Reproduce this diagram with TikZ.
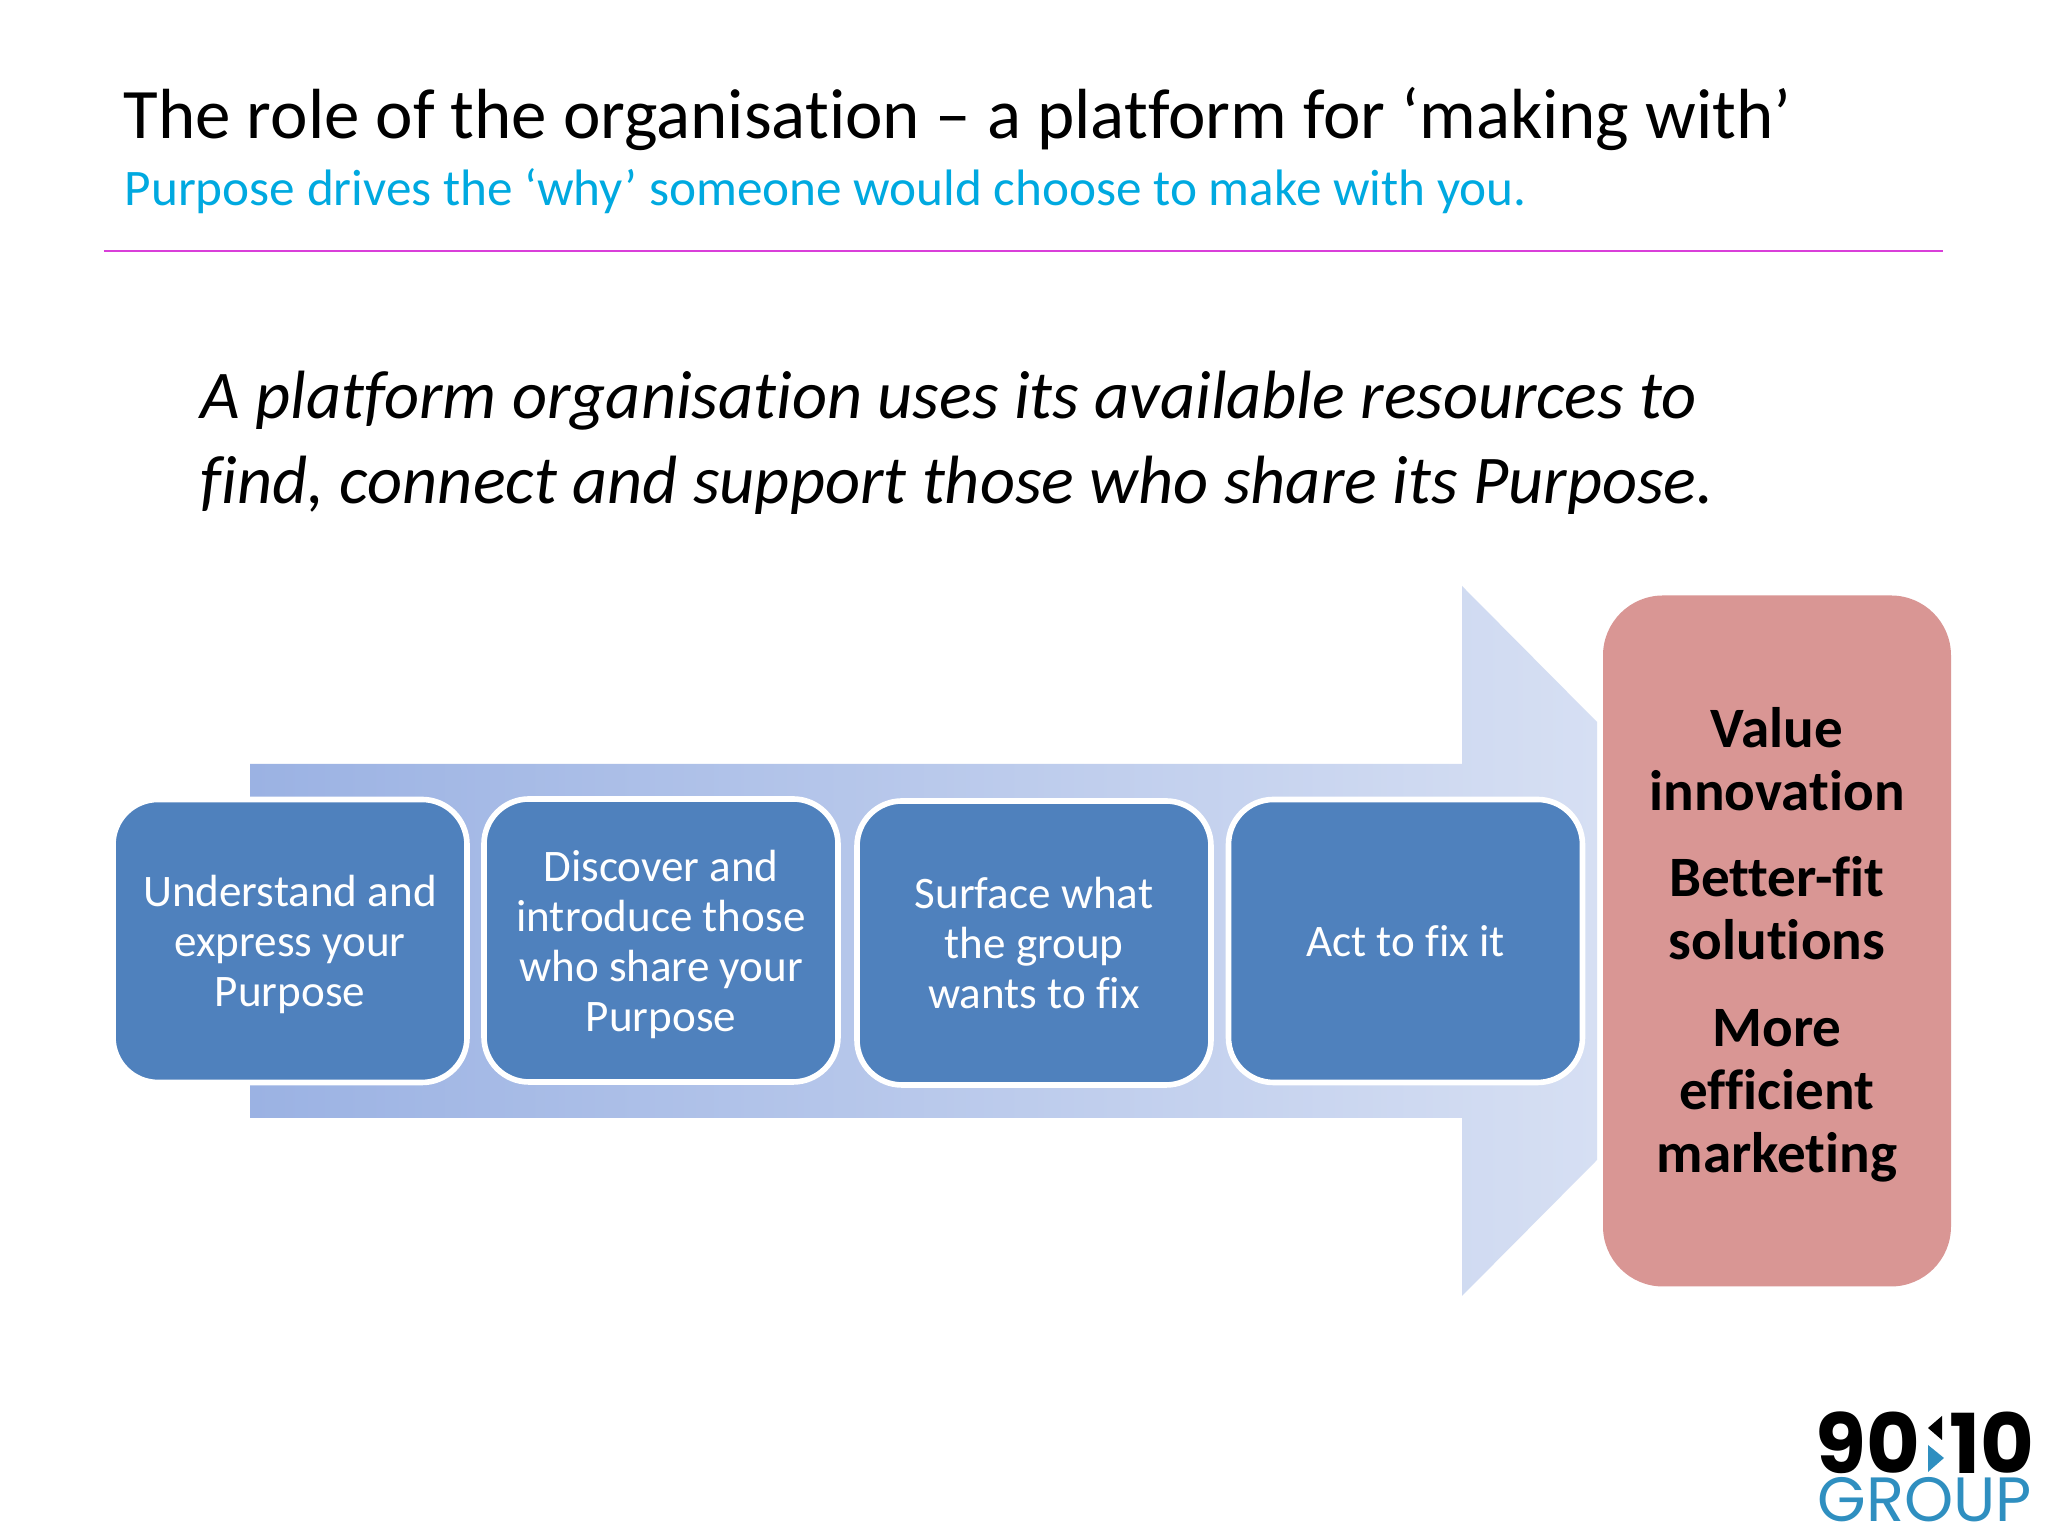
\documentclass[tikz,border=0pt]{standalone}
\usepackage{fontspec}
\setmainfont[Ligatures=NoCommon]{Carlito}
\newfontfamily\logofont{Poppins}
\usetikzlibrary{calc}
\definecolor{stepblue}{HTML}{4F81BD}
\definecolor{resultred}{HTML}{D99694}
\definecolor{subcyan}{HTML}{00A9E0}
\definecolor{rulepink}{HTML}{D93FD9}
\definecolor{logoblue}{HTML}{2F8FC0}
\tikzset{
	stepbox/.style={draw=white, line width=1.6pt, fill=stepblue, rounded corners=0.45cm, text=white, align=center,
		inner sep=0pt, font=\fontsize{12.83}{14.2}\selectfont},
	linetext/.style={anchor=base west, inner sep=0pt},
}

\begin{document}
\begin{tikzpicture}
		%%%%% START %%%%%
		\useasboundingbox (0, 0) rectangle (20.48, 15.36);
		\fill[white] (0, 0) rectangle (20.48, 15.36);
		
		\node[linetext, font=\fontsize{20.2}{24}\selectfont] (title) at (1.23, 13.97) {The role of the organisation -- a platform for ‘making with’};
		\node[linetext, font=\fontsize{14.58}{16}\selectfont, text=subcyan] (subtitle) at (1.24, 13.3) {Purpose drives the ‘why’ someone would choose to make with you.};
		\draw[rulepink, line width=0.7pt] (1.04, 12.85) -- (19.43, 12.85);
		
		\node[linetext, font=\fontsize{19.44}{22}\selectfont\itshape] (claim1) at (2, 11.17) {A platform organisation uses its available resources to};
		\node[linetext, font=\fontsize{19.44}{22}\selectfont\itshape] (claim2) at (2, 10.32) {find, connect and support those who share its Purpose.};
		
		\shade[left color={rgb,255:red,155;green,178;blue,227}, right color={rgb,255:red,214;green,223;blue,243}]
			(2.5, 7.72) -- (14.62, 7.72) -- (14.62, 9.5) -- (15.97, 8.14) -- (15.97, 3.76)
			-- (14.62, 2.4) -- (14.62, 4.18) -- (2.5, 4.18) -- cycle;
		
		\node[stepbox, minimum width=3.54cm, minimum height=2.83cm] (understand) at (2.9, 5.95) {\rule{0pt}{11pt}Understand and\\express your\\Purpose};
		\node[stepbox, minimum width=3.54cm, minimum height=2.83cm] (discover) at (6.61, 5.955) {\rule{0pt}{11pt}Discover and\\introduce those\\who share your\\Purpose};
		\node[stepbox, minimum width=3.54cm, minimum height=2.84cm] (surface) at (10.34, 5.93) {Surface what\\the group\\wants to fix};
		\node[stepbox, minimum width=3.54cm, minimum height=2.83cm] (act) at (14.055, 5.95) {Act to fix it};
		
		\node[fill=resultred, rounded corners=0.6cm, minimum width=3.48cm, minimum height=6.91cm, inner sep=0pt, align=center,
			font=\fontsize{16.25}{17.9}\selectfont\bfseries] (result) at (17.77, 5.95)
			{\rule{0pt}{13.5pt}Value\\innovation\\[6.7pt]Better-fit\\solutions\\[6.7pt]More\\efficient\\marketing};
		
		\node[font=\logofont\bfseries\fontsize{23.5}{24}\selectfont, inner sep=0pt] (ninety) at (18.68, 0.93) {90};
		\node[font=\logofont\bfseries\fontsize{23.5}{24}\selectfont, inner sep=0pt] (ten) at (19.92, 0.93) {10};
		\fill[black] (19.42, 1.2) -- (19.42, 0.96) -- (19.28, 1.08) -- cycle;
		\fill[logoblue] (19.28, 0.91) -- (19.28, 0.64) -- (19.44, 0.78) -- cycle;
		\node[font=\logofont\fontsize{17.8}{18}\selectfont, text=logoblue, inner sep=0pt] (group) at (19.25, 0.36) {GROUP};
		%%%%% END %%%%%
	\end{tikzpicture}
\end{document}
